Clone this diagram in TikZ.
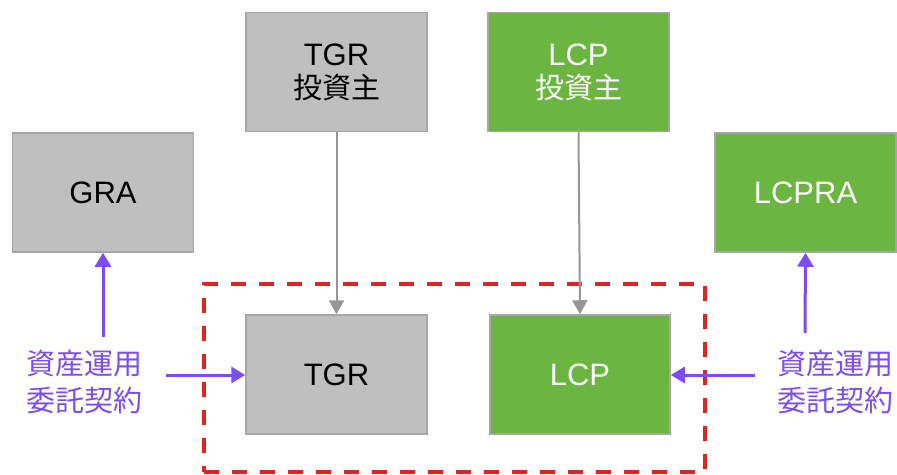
\documentclass[tikz,border=0pt]{standalone}
\usepackage{fontspec}
\setmainfont{Liberation Sans}
\newfontfamily\cjk{Noto Sans CJK JP}
\usetikzlibrary{arrows.meta}
\definecolor{boxgray}{RGB}{191,191,191}
\definecolor{edgegray}{RGB}{166,166,166}
\definecolor{boxgreen}{RGB}{106,182,64}
\definecolor{linkgray}{RGB}{150,150,150}
\definecolor{purp}{RGB}{124,77,245}
\definecolor{framered}{RGB}{222,36,36}
\tikzset{
  entity/.style={draw=edgegray, line width=1.5pt, minimum width=181pt, minimum height=119pt,
    inner sep=0pt, align=center, font=\fontsize{31}{36}\selectfont},
  graybox/.style={entity, fill=boxgray, text=black},
  greenbox/.style={entity, fill=boxgreen, text=white},
  feed/.style={draw=linkgray, line width=2pt, -{Triangle[length=14pt,width=15pt]}},
  contract/.style={draw=purp, line width=3pt, -{Triangle[length=14pt,width=16pt]}},
  contractlabel/.style={text=purp, align=center, font=\fontsize{29}{37}\selectfont\cjk, inner sep=0pt},
  frame/.style={draw=framered, line width=4pt, dash pattern=on 15pt off 13pt, inner sep=0pt}
}
\begin{document}
\begin{tikzpicture}[x=1pt,y=-1pt]
\useasboundingbox (0,0) rectangle (897,474);
% frame
\node[frame, minimum width=501pt, minimum height=188pt] (frame) at (454.5,378) {};
% boxes
\node[graybox] (GRA) at (103,192.5) {GRA};
\node[graybox] (TGRi) at (336.5,72) {TGR\\[-3pt]{\cjk\fontsize{29}{32}\selectfont 投資主}};
\node[greenbox] (LCPi) at (578.5,72) {LCP\\[-3pt]{\cjk\fontsize{29}{32}\selectfont 投資主}};
\node[greenbox] (LCPRA) at (805.5,192.5) {LCPRA};
\node[graybox] (TGR) at (336.5,374.5) {TGR};
\node[greenbox, minimum width=180pt] (LCP) at (580,374.5) {LCP};
% feeds
\draw[feed] (TGRi.south) -- (TGR.north);
\draw[feed] (LCPi.south) -- (LCP.north);
% contract labels
\node[contractlabel] (Lleft) at (85,382) {資産運用\\委託契約};
\node[contractlabel] (Lright) at (835,382) {資産運用\\委託契約};
\coordinate (lup) at (103,337);
\coordinate (lside) at (166,375);
\coordinate (rup) at (805,333);
\coordinate (rside) at (755,375);
\draw[contract] (lup) -- (GRA.south);
\draw[contract] (lside) -- (TGR.west |- lside);
\draw[contract] (rup) -- (LCPRA.south);
\draw[contract] (rside) -- (LCP.east |- rside);
\end{tikzpicture}
\end{document}
